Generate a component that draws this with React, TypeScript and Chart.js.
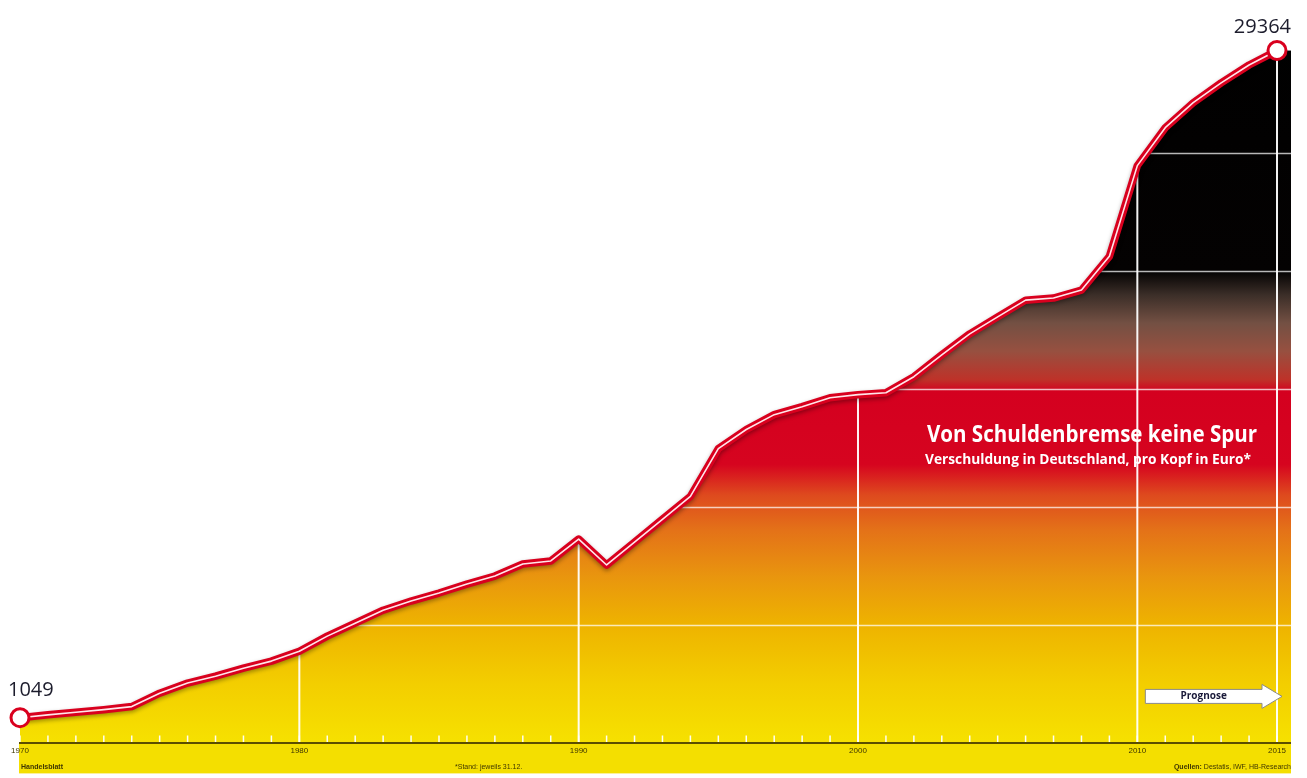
import React, { useEffect, useRef } from "react";
import { Chart, registerables } from "chart.js";

Chart.register(...registerables);

// ---------- data ----------
const years = [
  1970, 1971, 1972, 1973, 1974, 1975, 1976, 1977, 1978, 1979,
  1980, 1981, 1982, 1983, 1984, 1985, 1986, 1987, 1988, 1989,
  1990, 1991, 1992, 1993, 1994, 1995, 1996, 1997, 1998, 1999,
  2000, 2001, 2002, 2003, 2004, 2005, 2006, 2007, 2008, 2009,
  2010, 2011, 2012, 2013, 2014, 2015,
];
const debtPerCapita = [
  1049, 1170, 1280, 1390, 1520, 2090, 2520, 2810, 3150, 3450,
  3870, 4510, 5060, 5610, 6000, 6340, 6720, 7060, 7570, 7700,
  8630, 7530, 8500, 9470, 10440, 12470, 13280, 13910, 14250, 14630,
  14760, 14840, 15520, 16450, 17340, 18060, 18770, 18860, 19200, 20630,
  24480, 26090, 27150, 27990, 28750, 29364,
];
const axisYears = [1970, 1980, 1990, 2000, 2010, 2015];
const gridLevels = [5000, 10000, 15000, 20000, 25000];
const yMax = 31000;

const titleText = "Von Schuldenbremse keine Spur";
const subtitleText = "Verschuldung in Deutschland, pro Kopf in Euro*";
const publisherText = "Handelsblatt";
const footnoteText = "*Stand: jeweils 31.12.";
const sourcesBold = "Quellen:";
const sourcesText = " Destatis, IWF, HB-Research";
const forecastText = "Prognose";
const forecastFrom = 2010;
const forecastTo = 2015;

// fill colours by value (value, colour)
const gradientStops: [number, string][] = [
  [0, "#F6E100"],
  [2500, "#F3CE00"],
  [5000, "#EEB300"],
  [7000, "#E9960E"],
  [9000, "#E47218"],
  [10500, "#DE4A1E"],
  [11800, "#D6041F"],
  [14900, "#D4001F"],
  [15400, "#BE3229"],
  [16600, "#975040"],
  [17800, "#735043"],
  [19000, "#3B2E28"],
  [20000, "#040202"],
  [31000, "#000000"],
];

const RED = "#D9001E";
const SANS = "'Open Sans', 'DejaVu Sans', sans-serif";

function makeGradient(chart: any) {
  const ys = chart.scales.y;
  const ctx = chart.ctx;
  const y0 = ys.getPixelForValue(0);
  const y1 = ys.getPixelForValue(yMax);
  const g = ctx.createLinearGradient(0, y0, 0, y1);
  gradientStops.forEach(([v, c]) => g.addColorStop(Math.min(1, v / yMax), c));
  return g;
}

function fitText(ctx: CanvasRenderingContext2D, text: string, x: number, y: number, width: number) {
  const w = ctx.measureText(text).width;
  ctx.save();
  ctx.translate(x, y);
  ctx.scale(width / w, 1);
  ctx.textAlign = "left";
  ctx.fillText(text, 0, 0);
  ctx.restore();
}

const decorPlugin = {
  id: "decor",
  beforeDraw(chart: any) {
    const { ctx, chartArea } = chart;
    ctx.save();
    ctx.fillStyle = "#ffffff";
    ctx.fillRect(0, 0, chart.width, chart.height);
    // yellow footer band
    ctx.fillStyle = "#F4DF00";
    ctx.fillRect(chartArea.left - 1, chartArea.bottom, chartArea.right + 14 - (chartArea.left - 1), 31);
    ctx.restore();
  },
  beforeDatasetDraw(chart: any, args: any) {
    if (args.index === 1) {
      const ctx = chart.ctx;
      ctx.save();
      ctx.shadowColor = "rgba(0,0,0,0.35)";
      ctx.shadowBlur = 4;
      ctx.shadowOffsetY = 2;
    }
  },
  afterDatasetDraw(chart: any, args: any) {
    const { ctx, chartArea, scales } = chart;
    if (args.index === 1) {
      ctx.restore();
      return;
    }
    if (args.index !== 2) return;
    const pts = chart.getDatasetMeta(2).data;
    const last = pts[pts.length - 1];
    const base = scales.y.getPixelForValue(0);
    const extRight = chartArea.right + 14;
    ctx.save();
    // extension of the area beyond the last point
    ctx.fillStyle = makeGradient(chart);
    ctx.fillRect(last.x - 0.5, last.y, extRight - last.x + 0.5, base - last.y);
    // clip to area under curve
    ctx.beginPath();
    ctx.moveTo(pts[0].x, base);
    pts.forEach((p: any) => ctx.lineTo(p.x, p.y));
    ctx.lineTo(extRight, last.y);
    ctx.lineTo(extRight, base);
    ctx.closePath();
    ctx.clip();
    ctx.strokeStyle = "rgba(255,255,255,0.72)";
    ctx.lineWidth = 1.6;
    gridLevels.forEach((v) => {
      const y = Math.round(scales.y.getPixelForValue(v)) + 0.5;
      ctx.beginPath();
      ctx.moveTo(chartArea.left, y);
      ctx.lineTo(extRight, y);
      ctx.stroke();
    });
    ctx.strokeStyle = "rgba(255,255,255,0.95)";
    ctx.lineWidth = 2;
    axisYears.slice(1).forEach((yr) => {
      const x = scales.x.getPixelForValue(yr);
      ctx.beginPath();
      ctx.moveTo(x, base);
      ctx.lineTo(x, chartArea.top);
      ctx.stroke();
    });
    ctx.lineWidth = 1.5;
    years.forEach((yr) => {
      const x = scales.x.getPixelForValue(yr);
      ctx.beginPath();
      ctx.moveTo(x, base);
      ctx.lineTo(x, base - 7);
      ctx.stroke();
    });
    ctx.restore();
  },
  afterDraw(chart: any) {
    const { ctx, chartArea, scales } = chart;
    const base = scales.y.getPixelForValue(0);
    const extRight = chartArea.right + 14;
    ctx.save();
    // baseline
    ctx.strokeStyle = "#5B4E00";
    ctx.lineWidth = 2;
    ctx.beginPath();
    ctx.moveTo(chartArea.left - 1, base + 0.5);
    ctx.lineTo(extRight, base + 0.5);
    ctx.stroke();

    // footer texts
    const fy = base + 27;
    ctx.fillStyle = "#3E3600";
    ctx.textBaseline = "alphabetic";
    ctx.font = "bold 7px 'Liberation Sans', sans-serif";
    ctx.textAlign = "left";
    ctx.fillText(publisherText, chartArea.left + 1, fy);
    ctx.font = "7px 'Liberation Sans', sans-serif";
    ctx.fillText(footnoteText, 455, fy);
    ctx.textAlign = "right";
    const wNormal = ctx.measureText(sourcesText).width;
    ctx.fillText(sourcesText, extRight, fy);
    ctx.font = "bold 7px 'Liberation Sans', sans-serif";
    ctx.fillText(sourcesBold, extRight - wNormal, fy);

    // value labels at the ends
    const pts = chart.getDatasetMeta(0).data;
    const first = pts[0];
    const last = pts[pts.length - 1];
    ctx.fillStyle = "#1C1C2C";
    ctx.font = `20px ${SANS}`;
    ctx.textAlign = "left";
    ctx.fillText(String(debtPerCapita[0]), first.x - 12, first.y - 22);
    ctx.textAlign = "right";
    ctx.fillText(String(debtPerCapita[debtPerCapita.length - 1]), last.x + 14, last.y - 18);

    // title
    ctx.fillStyle = "#ffffff";
    ctx.font = `bold 24px ${SANS}`;
    fitText(ctx, titleText, 927, 442, 330);
    ctx.font = `bold 14px ${SANS}`;
    fitText(ctx, subtitleText, 925, 464, 326);

    // forecast arrow
    const x0 = scales.x.getPixelForValue(forecastFrom) + 8;
    const tip = scales.x.getPixelForValue(forecastTo) + 5;
    const headBase = tip - 20;
    const yc = base - 46;
    ctx.beginPath();
    ctx.moveTo(x0, yc - 7);
    ctx.lineTo(headBase, yc - 7);
    ctx.lineTo(headBase, yc - 12);
    ctx.lineTo(tip, yc);
    ctx.lineTo(headBase, yc + 12);
    ctx.lineTo(headBase, yc + 7);
    ctx.lineTo(x0, yc + 7);
    ctx.closePath();
    ctx.fillStyle = "#ffffff";
    ctx.fill();
    ctx.strokeStyle = "#8A8A8A";
    ctx.lineWidth = 1;
    ctx.stroke();
    ctx.fillStyle = "#1A1A3A";
    ctx.font = `bold 10px ${SANS}`;
    ctx.textAlign = "center";
    ctx.textBaseline = "middle";
    ctx.fillText(forecastText, (x0 + headBase) / 2, yc);
    ctx.restore();
  },
};

export default function App() {
  const ref = useRef<HTMLCanvasElement | null>(null);
  useEffect(() => {
    if (!ref.current) return;
    const points = years.map((yr, i) => ({ x: yr, y: debtPerCapita[i] }));
    const lastIdx = points.length - 1;
    const chart = new Chart(ref.current, {
      type: "line",
      data: {
        datasets: [
          {
            data: points,
            borderColor: "#FFE6EA",
            borderWidth: 1.6,
            tension: 0,
            fill: false,
            clip: false as any,
            pointRadius: points.map((_, i) => (i === 0 || i === lastIdx ? 9 : 0)),
            pointBackgroundColor: "#ffffff",
            pointBorderColor: RED,
            pointBorderWidth: 3,
            borderJoinStyle: "round",
          } as any,
          {
            data: points,
            borderColor: RED,
            borderWidth: 7.5,
            tension: 0,
            fill: false,
            clip: false as any,
            pointRadius: 0,
            borderJoinStyle: "round",
          } as any,
          {
            data: points,
            borderWidth: 0,
            borderColor: "rgba(0,0,0,0)",
            tension: 0,
            fill: "origin",
            pointRadius: 0,
            backgroundColor: (c: any) => {
              const ch = c.chart;
              if (!ch.chartArea) return "#F0B000";
              return makeGradient(ch);
            },
          } as any,
        ],
      },
      options: {
        animation: false,
        responsive: true,
        maintainAspectRatio: false,
        events: [],
        layout: { padding: { left: 20, right: 30, top: 9, bottom: 18 } },
        plugins: {
          legend: { display: false },
          tooltip: { enabled: false },
          title: { display: false },
        },
        scales: {
          x: {
            type: "linear",
            min: years[0],
            max: years[years.length - 1],
            afterBuildTicks: (s: any) => {
              s.ticks = axisYears.map((v) => ({ value: v }));
            },
            grid: { display: false, drawTicks: false },
            border: { display: false },
            ticks: {
              padding: 4,
              autoSkip: false,
              maxRotation: 0,
              color: "#3E3600",
              font: { size: 8, family: "'Liberation Sans', sans-serif" },
              callback: (v: any) => String(v),
            },
          },
          y: { display: false, min: 0, max: yMax },
        },
      } as any,
      plugins: [decorPlugin as any],
    });
    return () => chart.destroy();
  }, []);
  return (
    <div style={{ position: "absolute", left: 0, top: 0, width: 1307, height: 778 }}>
      <canvas ref={ref} />
    </div>
  );
}
